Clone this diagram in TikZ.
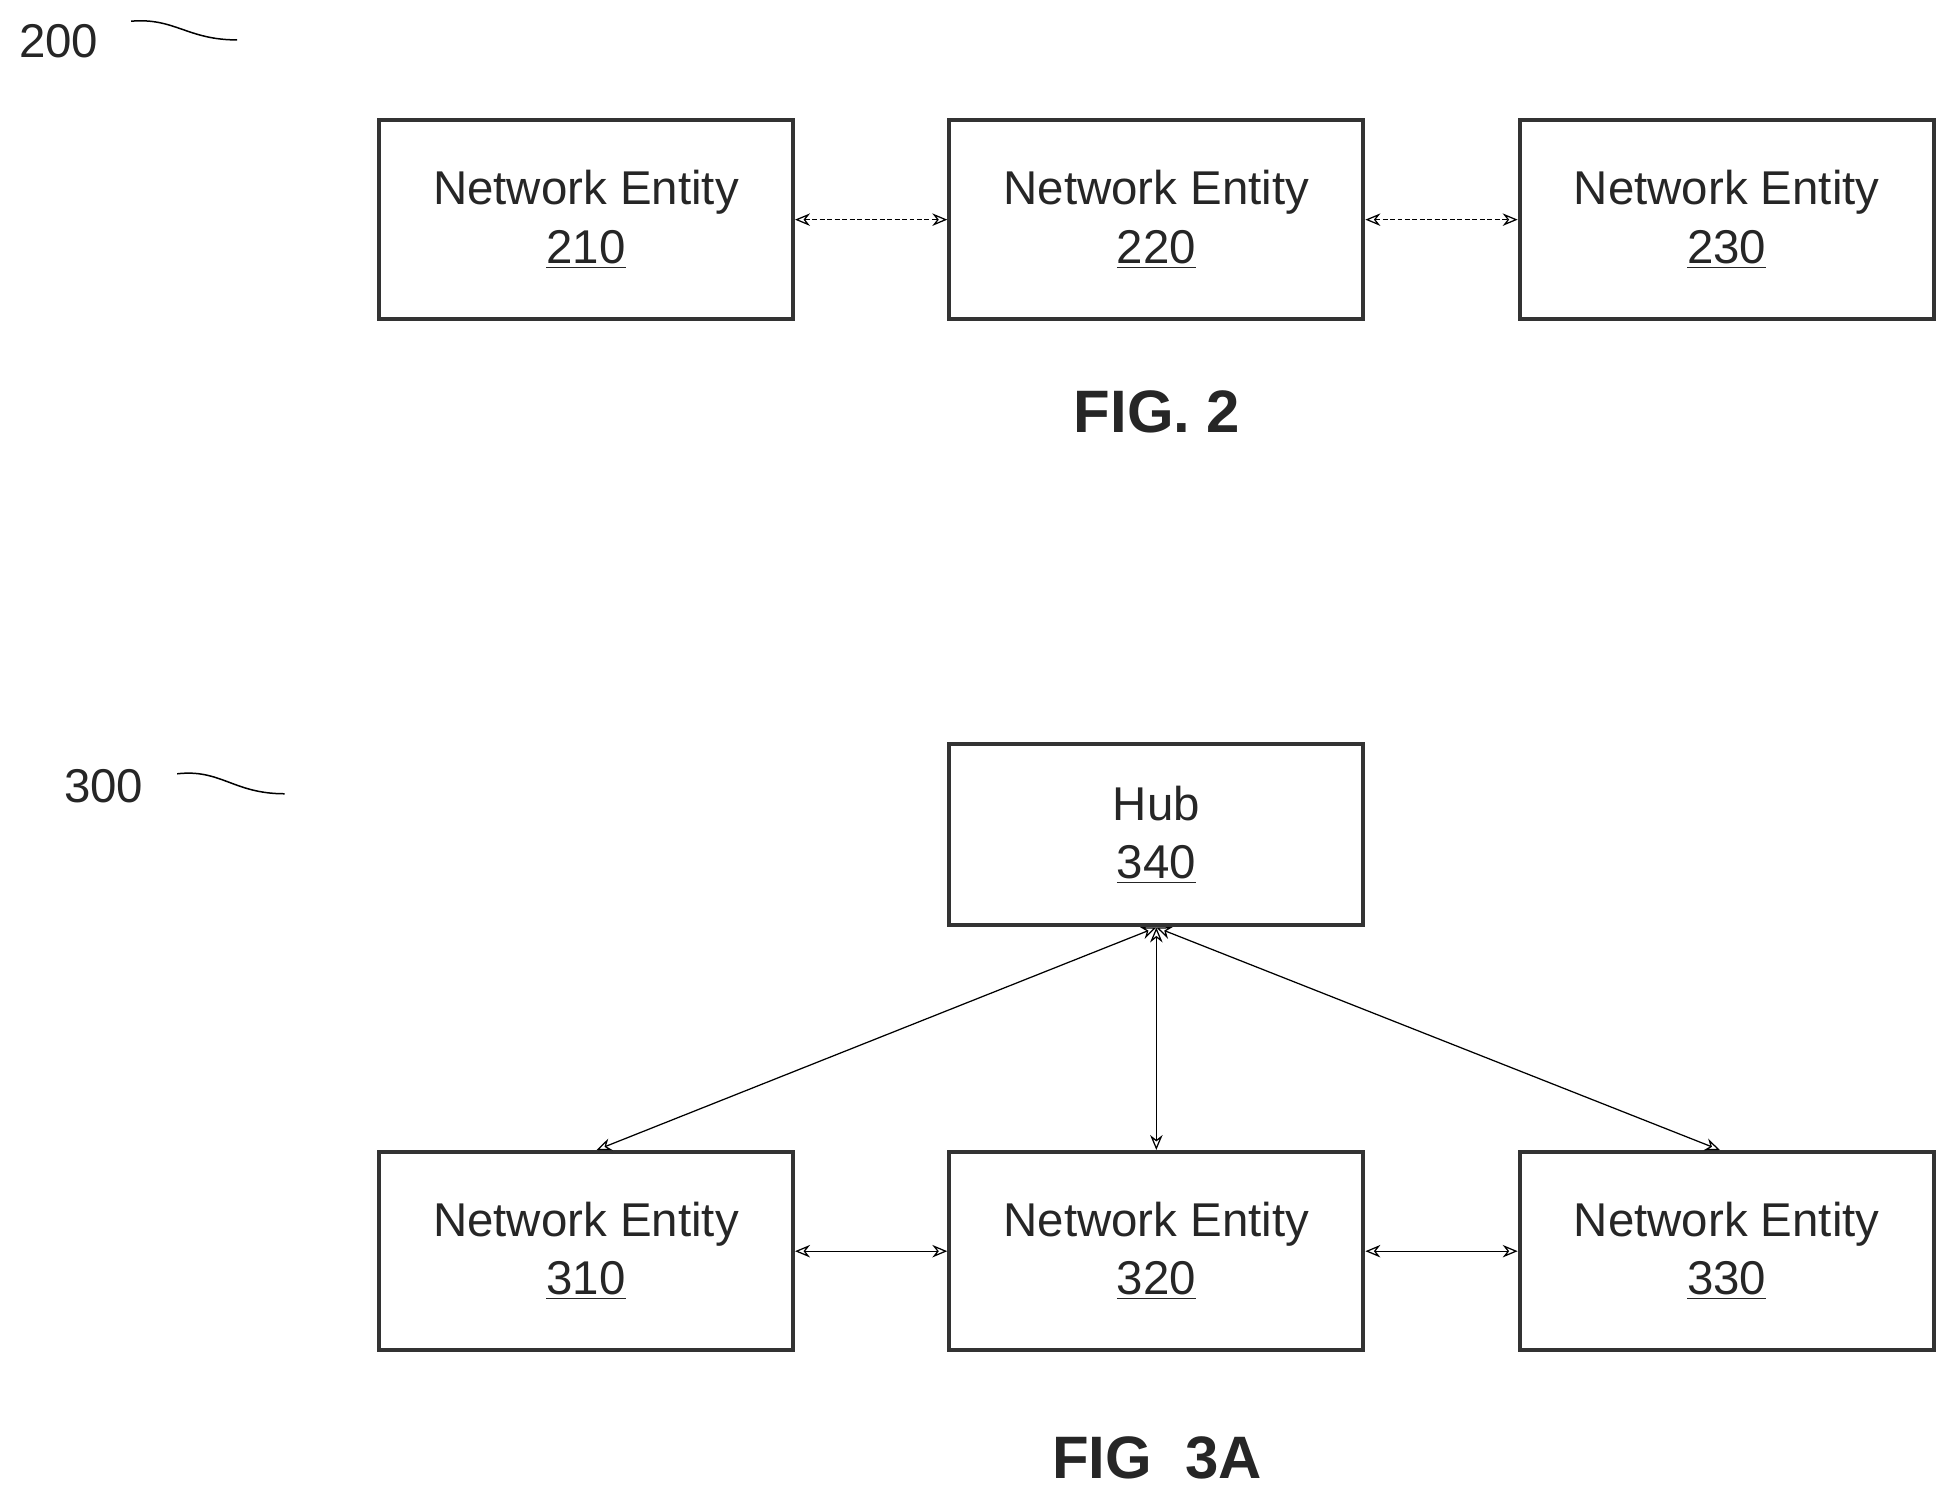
\documentclass[tikz,border=0pt]{standalone}
\usepackage{fontspec}
\setmainfont{Liberation Sans}
\usetikzlibrary{arrows.meta}
\begin{document}
\begin{tikzpicture}[x=0.5pt,y=-0.5pt,
  box/.style={draw=black!80,line width=1.6pt,inner sep=0pt,align=center,font=\fontsize{19}{23.5}\selectfont,text=black!85},
  conn/.style={line width=0.5pt,{Stealth[open,length=6pt,width=5pt]}-{Stealth[open,length=6pt,width=5pt]}},
  fig/.style={font=\bfseries\fontsize{24}{28}\selectfont,text=black!85},
  ref/.style={font=\fontsize{19}{23}\selectfont,text=black!85}]
\useasboundingbox (0,0) rectangle (1560,1197);
\newcommand{\netent}[1]{Network Entity\\\underline{#1}}
\tikzset{ebox/.style={box,minimum width=165.9pt,minimum height=79.5pt}}
\node[ebox] (n210) at (469.5,176) {\netent{210}};
\node[ebox] (n220) at (926.5,176) {\netent{220}};
\node[ebox] (n230) at (1383.5,176) {\netent{230}};
\draw[conn,dash pattern=on 2pt off 1pt] (n210) -- (n220);
\draw[conn,dash pattern=on 2pt off 1pt] (n220) -- (n230);
\node[fig] (f2) at (927,330) {FIG. 2};
\node[ref] (r200) at (47,33) {200};
\coordinate (s2a) at (105,17); \coordinate (s2b) at (190,32);
\draw[line width=0.6pt] (s2a) .. controls (140,14) and (150,32) .. (s2b);

\node[box,minimum width=165.9pt,minimum height=72.5pt] (hub) at (926.5,669) {Hub\\\underline{340}};
\node[ebox] (n310) at (469.5,1002.5) {\netent{310}};
\node[ebox] (n320) at (926.5,1002.5) {\netent{320}};
\node[ebox] (n330) at (1383.5,1002.5) {\netent{330}};
\draw[conn] (n310) -- (n320);
\draw[conn] (n320) -- (n330);
\draw[conn] (hub.south) -- (n310.north -| 478,0);
\draw[conn] (hub.south) -- (n320.north);
\draw[conn] (hub.south) -- (n330.north -| 1378,0);
\node[fig] (f3) at (927,1168) {FIG\ \ 3A};
\node[ref] (r300) at (83,630) {300};
\coordinate (s3a) at (142,620); \coordinate (s3b) at (228,636);
\draw[line width=0.6pt] (s3a) .. controls (177,616) and (187,636) .. (s3b);
\end{tikzpicture}
\end{document}
